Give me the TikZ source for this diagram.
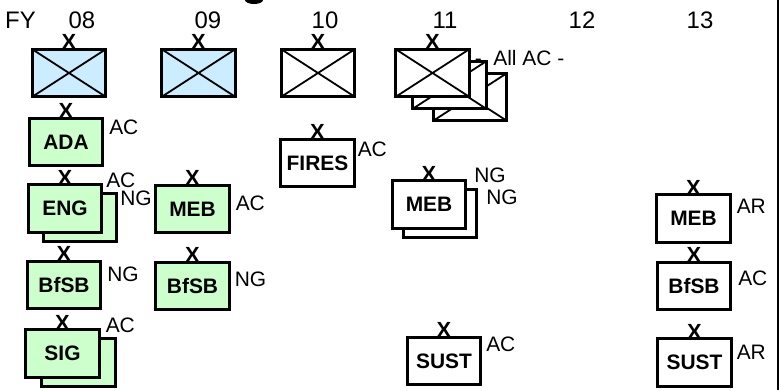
\documentclass[tikz,border=0pt]{standalone}
\usepackage{fontspec}
\setmainfont{Liberation Sans}
\usepackage{tikz}
\usetikzlibrary{positioning, shadows}
\definecolor{paleblue}{RGB}{204,236,255}
\definecolor{palegreen}{RGB}{204,255,204}

\begin{document}
\begin{tikzpicture}[
  x=1bp, y=-1bp,
  unit/.style = {
    draw=black, line width=2.6bp, fill=white,
    minimum width=73.5bp, minimum height=47.5bp, inner sep=0pt,
    font=\fontsize{21}{24}\selectfont\bfseries
  },
  bct/.style = {
    unit,
    path picture={
      \draw[line width=1.8bp]
        (path picture bounding box.north west) -- (path picture bounding box.south east)
        (path picture bounding box.south west) -- (path picture bounding box.north east);
    }
  },
  grn/.style = { fill=palegreen },
  blu/.style = { fill=paleblue },
  stack/.style 2 args = {
    copy shadow={shadow xshift=#1, shadow yshift=-9bp,
      draw=black, line width=2.6bp, fill=#2}
  },
  ech/.style = { inner sep=0pt, font=\fontsize{22}{24}\selectfont\bfseries },
  lbl/.style = { inner sep=0pt, anchor=north west, font=\fontsize{21}{24}\selectfont },
  yr/.style  = { inner sep=0pt, anchor=base, font=\fontsize{24}{26}\selectfont }
]
\useasboundingbox (0,0) rectangle (779,390);

\node[yr, anchor=base west] (fy) at (5,28) {FY};
\node[yr] (fy08) at (82,28)  {08};
\node[yr] (fy09) at (208,28) {09};
\node[yr] (fy10) at (325,28) {10};
\node[yr] (fy11) at (445,28) {11};
\node[yr] (fy12) at (582,28) {12};
\node[yr] (fy13) at (700,28) {13};

\node[bct, blu] (bde08) at (69,73)    {};
\node[bct, blu] (bde09) at (198.5,73) {};
\node[bct]      (bde10) at (318,73)   {};
\node[bct]      (bde11c) at (470,97)   {};
\node[bct]      (bde11b) at (449.5,85) {};
\node[bct]      (bde11) at (432.5,73) {};
\node[ech, above=-2bp of bde08] (x08) {X};
\node[ech, above=-2bp of bde09] (x09) {X};
\node[ech, above=-2bp of bde10] (x10) {X};
\node[ech, above=-2bp of bde11] (x11) {X};
\node[lbl] (allac) at ([shift={(4,2)}]bde11.north east) {-~~All AC -};

\node[unit, grn] (ada) at (66,142) {ADA};
\node[unit, grn, stack={15bp}{palegreen}] (eng) at (65,208.5) {ENG};
\node[unit, grn] (bfsb08) at (64,285) {BfSB};
\node[unit, grn, stack={16bp}{palegreen}] (sig) at (62.5,353.5) {SIG};
\node[ech, above=-2bp of ada]    (xada) {X};
\node[ech, above=-2bp of eng]    (xeng) {X};
\node[ech, above=-2bp of bfsb08] (xbfsb08) {X};
\node[ech, above=-2bp of sig]    (xsig) {X};
\node[lbl] (adac)  at ([shift={(5,3)}]ada.north east) {AC};
\node[lbl] (engac) at ([shift={(3,-11)}]eng.north east) {AC};
\node[lbl] (engng) at ([shift={(17,7)}]eng.north east) {NG};
\node[lbl] (bfsb08ng) at ([shift={(5,7)}]bfsb08.north east) {NG};
\node[lbl] (sigac) at ([shift={(5,-11)}]sig.north east) {AC};

\node[unit, grn] (meb09)  at (192.5,209) {MEB};
\node[unit, grn] (bfsb09) at (192.5,286) {BfSB};
\node[ech, above=-2bp of meb09]  (xmeb09) {X};
\node[ech, above=-2bp of bfsb09] (xbfsb09) {X};
\node[lbl] (meb09ac)  at ([shift={(5,12)}]meb09.north east) {AC};
\node[lbl] (bfsb09ng) at ([shift={(4,11)}]bfsb09.north east) {NG};

\node[unit] (fires) at (317.5,163) {FIRES};
\node[ech, above=-2bp of fires] (xfires) {X};
\node[lbl] (firesac) at ([shift={(2,4)}]fires.north east) {AC};

\node[unit, stack={11bp}{white}] (meb11) at (429,204.5) {MEB};
\node[unit] (sust11) at (444,361) {SUST};
\node[ech, above=-2bp of meb11]  (xmeb11) {X};
\node[ech, above=-2bp of sust11] (xsust11) {X};
\node[lbl] (meb11ng)  at ([shift={(7,-12)}]meb11.north east) {NG};
\node[lbl] (meb11ng2) at ([shift={(19,10)}]meb11.north east) {NG};
\node[lbl] (sust11ac) at ([shift={(4,1)}]sust11.north east) {AC};

\node[unit] (meb13)  at (693.5,218.5) {MEB};
\node[unit] (bfsb13) at (694,286)     {BfSB};
\node[unit] (sust13) at (694.5,362.5) {SUST};
\node[ech, above=-2bp of meb13]  (xmeb13) {X};
\node[ech, above=-2bp of bfsb13] (xbfsb13) {X};
\node[ech, above=-2bp of sust13] (xsust13) {X};
\node[lbl] (meb13ar)  at ([shift={(5,5)}]meb13.north east) {AR};
\node[lbl] (bfsb13ac) at ([shift={(6,10)}]bfsb13.north east) {AC};
\node[lbl] (sust13ar) at ([shift={(4,7)}]sust13.north east) {AR};

\fill (245,0) arc[start angle=180, end angle=0, x radius=9, y radius=4] -- cycle;
\draw[line width=2bp] (778,0) -- (778,390);

\end{tikzpicture}
\end{document}
